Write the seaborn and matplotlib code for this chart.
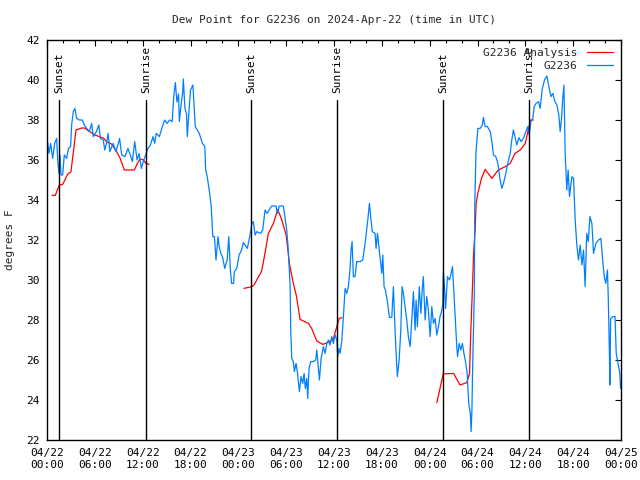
import numpy as np
import pandas as pd
import matplotlib
matplotlib.use("Agg")
import matplotlib.pyplot as plt
import matplotlib.dates as mdates
import matplotlib.transforms as mtransforms
import seaborn as sns

# -------------------------
#  Data (hours after 2024-04-22 00:00 UTC, dew point in F)
# -------------------------
start = pd.Timestamp("2024-04-22 00:00")

obs_hours = [0.04, 0.25, 0.46, 0.71, 0.96, 1.21, 1.34, 1.5, 1.63, 1.76, 1.96, 2.17, 2.46, 2.7, 2.96,
             3.09, 3.3, 3.5, 3.72, 4.05, 4.43, 4.68, 4.97, 5.3, 5.6, 5.8, 6.2, 6.5, 6.7, 7.05, 7.25,
             7.46, 7.67, 7.88, 8.3, 8.63, 8.9, 9.1, 9.37, 9.78, 10.15, 10.45, 10.7, 11.0, 11.3, 11.55,
             11.84, 12.13, 12.38, 12.67, 12.97, 13.3, 13.5, 13.7, 14.1, 14.4, 14.75, 15.05, 15.38, 15.7,
             15.9, 16.1, 16.3, 16.5, 16.6, 16.8, 17.0, 17.1, 17.3, 17.5, 17.6, 17.8, 18.0, 18.3, 18.6,
             19.1, 19.5, 19.8, 19.9, 20.1, 20.4, 20.6, 20.8, 21.0, 21.2, 21.45, 21.6, 21.8, 22.0, 22.3,
             22.6, 22.8, 23.0, 23.15, 23.4, 23.5, 23.8, 24.1, 24.4, 24.63, 25.13, 25.47, 25.7, 25.88,
             26.1, 26.3, 26.8, 27.06, 27.35, 27.6, 27.98, 28.2, 28.73, 28.9, 29.15, 29.65, 29.86, 30.07,
             30.27, 30.5, 30.58, 30.7, 30.9, 31.03, 31.24, 31.4, 31.66, 31.87, 32.08, 32.25, 32.4, 32.58,
             32.7, 32.87, 33.08, 33.4, 33.7, 33.84, 34.04, 34.17, 34.38, 34.67, 34.88, 35.1, 35.3, 35.5,
             35.72, 35.92, 36.14, 36.35, 36.47, 36.64, 36.76, 36.97, 37.18, 37.39, 37.6, 37.8, 38.0,
             38.14, 38.27, 38.43, 38.64, 38.85, 39.27, 39.6, 39.9, 40.1, 40.24, 40.44, 40.6, 40.8, 41.15,
             41.28, 41.45, 41.7, 42.0, 42.12, 42.28, 42.45, 42.7, 42.95, 43.25, 43.45, 43.66, 43.79,
             43.95, 44.17, 44.38, 44.54, 44.7, 44.92, 45.13, 45.33, 45.55, 45.76, 45.96, 46.17, 46.3,
             46.46, 46.7, 46.9, 47.05, 47.2, 47.43, 47.64, 47.84, 48.06, 48.27, 48.47, 48.68, 48.9, 49.1,
             49.3, 49.5, 49.64, 49.72, 49.85, 50.0, 50.23, 50.48, 50.65, 50.86, 51.0, 51.2, 51.4, 51.5,
             51.7, 51.9, 52.1, 52.3, 52.5, 52.7, 52.9, 53.1, 53.2, 53.3, 53.4, 53.6, 53.66, 53.8, 53.9,
             54.05, 54.33, 54.6, 54.74, 54.95, 55.25, 55.6, 55.8, 56.0, 56.3, 56.55, 56.84, 57.05, 57.26,
             57.55, 57.8, 58.1, 58.3, 58.5, 58.7, 58.93, 59.2, 59.47, 59.75, 60.06, 60.3, 60.47, 60.7,
             60.94, 61.1, 61.35, 61.65, 61.86, 62.1, 62.4, 62.7, 62.95, 63.2, 63.45, 63.7, 63.96, 64.2,
             64.37, 64.54, 64.7, 64.84, 65.0, 65.2, 65.37, 65.54, 65.84, 66.05, 66.25, 66.46, 66.67,
             66.88, 67.1, 67.3, 67.5, 67.7, 67.9, 68.1, 68.35, 68.55, 68.85, 69.18, 69.48, 69.7, 69.9,
             70.1, 70.3, 70.4, 70.55, 70.6, 70.7, 71.0, 71.25, 71.4, 71.7, 71.85, 71.95]
obs_dewpt = [37.0, 36.33, 36.83, 36.08, 36.83, 37.08, 36.0, 35.33, 36.25, 35.25, 35.25, 36.25, 36.08, 36.58,
             36.67, 37.75, 38.42, 38.58, 38.08, 38.0, 38.0, 37.75, 37.58, 37.42, 37.83, 37.17, 37.42, 37.75,
             37.08, 37.0, 36.5, 36.83, 37.33, 36.42, 36.83, 36.42, 36.75, 37.08, 36.25, 36.17, 36.58, 36.25,
             35.92, 36.92, 36.0, 36.33, 35.58, 36.0, 36.25, 36.58, 36.75, 37.17, 36.83, 37.33, 37.17, 37.58,
             38.0, 37.83, 38.0, 37.92, 39.17, 39.87, 38.9, 39.3, 37.92, 38.7, 39.3, 40.05, 38.6, 38.3, 37.17,
             38.4, 39.5, 39.75, 37.67, 37.33, 36.83, 36.67, 35.5, 35.17, 34.33, 33.67, 32.17, 32.17, 31.0,
             32.17, 31.67, 31.33, 31.17, 30.58, 31.0, 32.17, 30.5, 29.83, 29.83, 30.42, 30.58, 31.25, 31.5,
             31.87, 31.58, 32.25, 32.83, 32.92, 32.25, 32.42, 32.33, 32.5, 33.5, 33.33, 33.58, 33.7, 33.7,
             33.33, 33.7, 33.7, 33.08, 32.5, 31.5, 29.67, 27.33, 26.08, 25.92, 25.42, 25.83, 25.42, 24.42,
             25.17, 24.83, 25.33, 24.58, 25.08, 24.08, 25.58, 25.92, 25.92, 26.0, 26.5, 25.58, 25.0, 26.08,
             26.67, 26.33, 26.83, 27.0, 26.75, 27.17, 26.83, 27.25, 27.0, 26.17, 26.58, 26.33, 26.92, 28.17,
             29.58, 29.33, 29.67, 30.5, 31.5, 31.92, 30.17, 30.17, 30.92, 30.92, 31.0, 31.83, 32.5, 33.0,
             33.83, 33.17, 32.42, 32.33, 31.58, 32.33, 31.42, 30.33, 31.25, 29.67, 29.5, 28.92, 28.13, 28.13,
             29.67, 27.5, 26.33, 25.17, 26.0, 27.5, 29.67, 29.33, 28.67, 28.0, 27.17, 26.67, 28.0, 29.42,
             27.5, 29.0, 27.67, 29.67, 28.33, 29.42, 30.17, 28.0, 29.17, 28.5, 27.17, 28.67, 27.83, 28.08,
             27.25, 27.67, 28.17, 28.42, 28.83, 30.42, 29.67, 28.58, 30.17, 30.0, 30.25, 30.67, 29.67, 28.17,
             26.67, 26.17, 26.83, 26.5, 26.83, 26.33, 25.92, 25.33, 23.83, 23.33, 22.42, 23.5, 25.83, 29.33,
             33.83, 36.33, 36.83, 37.58, 37.58, 37.75, 38.13, 37.67, 37.67, 37.42, 36.92, 36.25, 36.17,
             35.83, 35.0, 34.58, 34.83, 35.33, 35.83, 36.33, 37.0, 37.5, 37.17, 36.75, 37.12, 36.92, 37.08,
             37.42, 37.67, 37.25, 37.92, 38.08, 38.67, 38.83, 38.92, 38.58, 39.5, 40.0, 40.2, 39.67, 39.17,
             39.33, 38.92, 38.75, 38.25, 37.42, 38.08, 39.08, 39.75, 36.33, 34.5, 35.5, 34.17, 35.17, 35.08,
             33.0, 31.75, 31.0, 31.75, 30.75, 31.5, 29.67, 32.33, 31.92, 33.17, 32.83, 31.33, 31.83, 32.0,
             32.08, 31.0, 30.17, 29.83, 30.5, 29.17, 26.25, 24.75, 28.08, 28.17, 28.17, 26.33, 25.67, 25.33,
             24.58]

# analysis series, NaN marks the gaps between runs
ana_hours = [0.63, 1.04, 1.54, 1.97, 2.6, 3.0, 3.64, 4.35, 4.7, 5.06, 6.0, 7.07, 7.5, 8.1, 8.75, 9.16,
             9.7, 10.96, 11.3, 11.67, 12.1, 12.4, 12.8,
             18.0,
             24.7, 25.7, 25.97, 26.9, 27.2, 27.77, 28.4, 28.94, 29.45, 30.0, 30.4, 30.9, 31.3, 31.74,
             32.8, 33.2, 33.84, 34.6, 35.2, 35.9, 36.35, 36.64, 37.0,
             43.0,
             48.9, 49.7, 51.0, 51.8, 52.66, 53.0, 53.16, 53.4, 53.5, 53.7, 53.83, 54.04, 54.5, 54.96,
             55.8, 56.6, 57.5, 58.1, 58.7, 59.35, 60.0, 60.4, 60.7, 61.0]
ana_dewpt = [34.23, 34.23, 34.75, 34.78, 35.3, 35.4, 37.5, 37.6, 37.6, 37.5, 37.25, 37.1, 36.9, 36.8,
             36.4, 36.1, 35.5, 35.5, 35.8, 36.05, 36.0, 35.83, 35.78,
             np.nan,
             29.58, 29.67, 29.75, 30.42, 31.03, 32.33, 32.83, 33.53, 33.0, 32.25, 30.83, 29.83, 29.17,
             28.03, 27.83, 27.58, 26.95, 26.78, 26.87, 27.03, 27.67, 28.08, 28.12,
             np.nan,
             23.87, 25.3, 25.33, 24.75, 24.87, 25.33, 27.42, 30.0, 31.25, 32.5, 33.83, 34.33, 35.08,
             35.53, 35.08, 35.5, 35.67, 35.83, 36.33, 36.5, 36.83, 37.58, 38.0, 38.0]

sun_hours = [1.54, 12.46, 25.64, 36.43, 49.73, 60.52]
sun_labels = ["Sunset", "Sunrise", "Sunset", "Sunrise", "Sunset", "Sunrise"]

# -------------------------
#  Frames
# -------------------------
obs = pd.DataFrame({"time": start + pd.to_timedelta(obs_hours, unit="h"), "dewpt": obs_dewpt})
ana = pd.DataFrame({"time": start + pd.to_timedelta(ana_hours, unit="h"), "dewpt": ana_dewpt})
ana["seg"] = ana["dewpt"].isna().cumsum()
ana = ana.dropna()

# -------------------------
#  Plot
# -------------------------
sns.set_theme(style="white")
plt.rcParams["font.family"] = ["DejaVu Sans Mono", "DejaVu Sans"]
plt.rcParams["font.size"] = 8

fig = plt.figure(figsize=(6.4, 4.8), dpi=100)
ax = fig.add_axes([47 / 640, 1 - 440 / 480, (621 - 47) / 640, 400 / 480])

sns.lineplot(data=ana, x="time", y="dewpt", units="seg", estimator=None,
             color="#ff0000", lw=0.9, ax=ax, label="G2236 Analysis")
sns.lineplot(data=obs, x="time", y="dewpt", color="#0080ff", lw=0.9, ax=ax, label="G2236")

trans = mtransforms.blended_transform_factory(ax.transData, ax.transAxes)
for h, lab in zip(sun_hours, sun_labels):
    t = mdates.date2num(start + pd.Timedelta(hours=h))
    ax.axvline(t, ymin=0, ymax=0.85, color="black", lw=1.0)
    ax.text(t, 0.868, lab, rotation=90, transform=trans, ha="center", va="bottom",
            fontsize=8, color="black")

ax.set_xlim(start, start + pd.Timedelta(hours=72))
ax.set_ylim(22, 42)
ax.set_yticks(np.arange(22, 43, 2))
ax.xaxis.set_major_locator(mdates.HourLocator(byhour=[0, 6, 12, 18]))
ax.xaxis.set_minor_locator(mdates.HourLocator(interval=2))
ax.xaxis.set_major_formatter(mdates.DateFormatter("%m/%d\n%H:%M"))

ax.tick_params(which="both", direction="in", top=True, right=True, colors="black", labelsize=8)
ax.tick_params(which="major", length=4.5, width=0.8, pad=6)
ax.tick_params(which="minor", length=2.2, width=0.8)
ax.tick_params(axis="y", pad=5)
for s in ax.spines.values():
    s.set_color("black")
    s.set_linewidth(1.0)

ax.set_xlabel("")
ax.set_ylabel("degrees F", fontsize=8)
ax.yaxis.set_label_coords(-0.056, 0.5)
ax.set_title("Dew Point for G2236 on 2024-Apr-22 (time in UTC)", fontsize=8, pad=12)

# one legend entry per series (the analysis runs are separate lines)
handles, labels = ax.get_legend_handles_labels()
seen = {}
for hd, lb in zip(handles, labels):
    if lb not in seen:
        seen[lb] = hd
ax.legend(list(seen.values()), list(seen.keys()), loc="upper right", frameon=False,
          markerfirst=False, fontsize=8, handlelength=2.4, labelspacing=0.25,
          borderaxespad=0.3, handletextpad=0.8)

fig.savefig("out.png", dpi=100)
